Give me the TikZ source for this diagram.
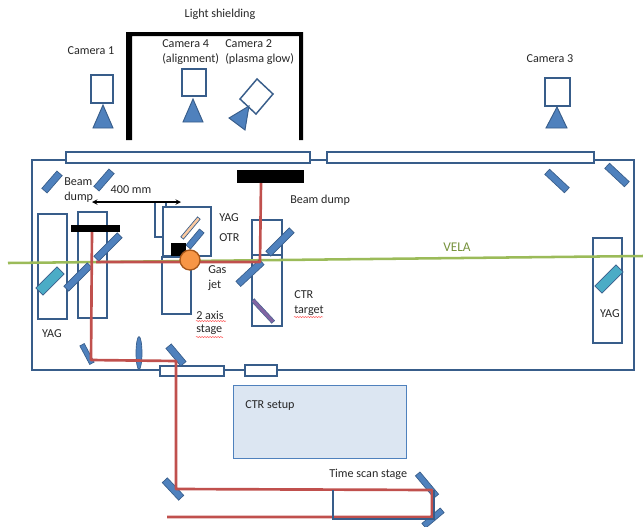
\documentclass[tikz,border=0pt]{standalone}
\usepackage{fontspec}
\setmainfont{Carlito}
\usetikzlibrary{decorations.pathmorphing,shapes.geometric}
\definecolor{bd}{HTML}{385D8A}
\definecolor{bf}{HTML}{4F81BD}
\definecolor{rd}{HTML}{C0504D}
\definecolor{gn}{HTML}{9BBB59}
\definecolor{tl}{HTML}{4BACC6}
\definecolor{pu}{HTML}{8064A2}
\definecolor{tn}{HTML}{FAC9A0}
\definecolor{or}{HTML}{F79646}
\definecolor{orb}{HTML}{A5561A}
\definecolor{vl}{HTML}{76923C}
\definecolor{cf}{HTML}{DCE6F2}
\tikzset{
  outl/.style={draw=bd,line width=1.1pt},
  win/.style={outl,fill=white},
  mirror/.style n args={3}{draw=bd,fill=bf,line width=.5pt,rectangle,inner sep=0pt,minimum width=#1*.75pt,minimum height=#2*.75pt,rotate=#3},
  tealm/.style 2 args={draw=bd,fill=tl,line width=.5pt,rectangle,inner sep=0pt,minimum width=#1*.75pt,minimum height=10*.75pt,rotate=#2},
  beam/.style={draw=rd,line width=2pt},
  blk/.style={fill=black,draw=none},
  camtri/.style={fill=bf,draw=bd,line width=.7pt},
  lab/.style={font=\fontsize{9.1}{11.25}\selectfont,text=black!85,inner sep=0pt},
  lft/.style={lab,anchor=west},
  ctr/.style={lab,align=center},
  spell/.style={draw=red!80,line width=.35pt,decorate,decoration={snake,amplitude=.35pt,segment length=2pt}}
}
\begin{document}
\begin{tikzpicture}[x=.75pt,y=-.75pt]
\useasboundingbox (0,0) rectangle (643,526);
\clip (0,0) rectangle (643,526);
% chamber
\draw[outl] (32,160) rectangle (634,370);
\node[lab] (tshield) at (220,14) {Light shielding};
% shielding
\fill[blk] (126,140) -- (126,32) -- (303,32) -- (303,140) -- (299,140) -- (299,36) -- (132,36) -- (132,140) -- cycle;
% cameras
\node[ctr] (tc1) at (91,51) {Camera 1};
\node[lft,align=left] (tc4) at (162,52) {Camera 4\\(alignment)};
\node[lft,align=left] (tc2) at (225,52) {Camera 2\\(plasma glow)};
\node[ctr] (tc3) at (550,59) {Camera 3};
\draw[outl] (91,75) rectangle (113,103);
\draw[camtri] (93,128) -- (113,128) -- (103,105) -- cycle;
\draw[outl] (182,69) rectangle (206,96);
\draw[camtri] (183,122) -- (203,122) -- (193,99) -- cycle;
\draw[outl] (257,79) -- (273,94) -- (256,114) -- (240,99) -- cycle;
\draw[camtri] (249,106) -- (229,118) -- (245,130) -- cycle;
\draw[outl] (545,78) rectangle (570,106);
\draw[camtri] (546,128) -- (567,128) -- (557,107) -- cycle;
% windows
\draw[win] (66,152) rectangle (310,163);
\draw[win] (327,152) rectangle (594,163);
\draw[win] (160,366) rectangle (224,376);
\draw[win] (245,365) rectangle (277,376);
% stage boxes
\draw[outl] (38,214) rectangle (67,319);
\draw[outl] (78,212) rectangle (107,318);
\draw[outl] (155,202) rectangle (166,237);
\draw[outl,fill=white] (163,207) rectangle (211,256);
\draw[bd,line width=2.2pt] (163,207) -- (163,257);
\draw[outl] (162,257) rectangle (191,314);
\draw[outl] (252,220) rectangle (282,255);
\draw[outl] (252,255) rectangle (282,326);
\draw[outl] (593,238) rectangle (622,343);
% top mirrors
\node[mirror={23}{7}{49}] (m1) at (52,182) {};
\node[mirror={23}{7}{49}] (m2) at (104,180) {};
\node[mirror={27}{7}{-43}] (m9) at (557,181) {};
\node[mirror={27}{7}{-43}] (m10) at (617,175) {};
% green beam
\coordinate (gl) at (8,263);
\coordinate (gr) at (643,256);
\draw[gn,line width=1.9pt] (gl) -- (gr);
\node[font=\fontsize{10}{12}\selectfont,text=vl,inner sep=0pt] (tvela) at (457,247) {VELA};
% mirrors in the chamber
\node[tealm={30}{45}] (y1) at (50,281) {};
\node[tealm={30}{45}] (y2) at (609,279) {};
\node[mirror={33}{7}{45}] (m3) at (78,277) {};
\node[mirror={33}{7}{45}] (m4) at (108,247) {};
\node[mirror={33}{7}{45}] (m5) at (280,242) {};
\node[mirror={32}{7}{43}] (m6) at (250,273) {};
\node[draw=bd,fill=pu,line width=.3pt,rectangle,inner sep=0pt,minimum width=30*.75pt,minimum height=4*.75pt,rotate=-47] (ctrt) at (263,311) {};
\node[mirror={21}{5}{-62}] (m7) at (87,354) {};
\node[draw=bd,fill=bf,ellipse,line width=.5pt,inner sep=0pt,minimum width=6*.75pt,minimum height=33*.75pt] (lens) at (139,353) {};
\node[mirror={23}{7}{-50}] (m8) at (176,355) {};
\node[mirror={29}{6}{-50}] (m11) at (427,485) {};
\node[mirror={24}{6}{40}] (m12) at (433,518) {};
\node[mirror={24}{7}{-47}] (m13) at (173,489) {};
\node[draw=bd,fill=tn,line width=.5pt,rectangle,inner sep=0pt,minimum width=26*.75pt,minimum height=3.5*.75pt,rotate=50] (tany) at (190.5,228) {};
\node[mirror={21}{6}{50}] (otr) at (195,239) {};
\fill[blk] (171,243) rectangle (186,256);
% dumps
\node[blk,rectangle,inner sep=0pt,minimum width=49*.75pt,minimum height=7*.75pt] (d1) at (95.5,228.5) {};
\node[blk,rectangle,inner sep=0pt,minimum width=67*.75pt,minimum height=13*.75pt] (d2) at (270.5,176.5) {};
% red beams
\coordinate (a1) at (96,262);
\coordinate (a2) at (260,262);
\coordinate (a3) at (261,183);
\draw[beam,line join=round] (a1) -- (a2) -- (a3);
\coordinate (b1) at (92,232);
\coordinate (b2) at (91,360);
\coordinate (b3) at (176,361);
\coordinate (b4) at (176,489);
\coordinate (b5) at (432,490);
\coordinate (b6) at (432,517);
\coordinate (b7) at (167,517);
\draw[beam,line join=round] (b1) -- (b2) -- (b3) -- (b4) -- (b5) -- (b6) -- (b7);
% stage at the bottom
\draw[bd,line width=1.3pt] (333,490) -- (333,519) -- (434,519) -- (434,490);
% gas jet
\node[circle,draw=orb,fill=or,line width=1pt,inner sep=0pt,minimum size=20*.75pt] (jet) at (190,260) {};
% CTR box
\node[draw=bf,fill=cf,line width=.7pt,rectangle,inner sep=0pt,minimum width=173*.75pt,minimum height=73*.75pt] (ctrbox) at (319.5,421.5) {};
% arrow
\coordinate (al) at (92,202);
\coordinate (ar) at (181,202);
\draw[line width=.8pt,black,<->,>=stealth] (al) -- (ar);
% labels
\node[lft,align=left] (tbd1) at (64,190.5) {Beam\\dump};
\node[ctr] (t400) at (131,190) {400 mm};
\node[lft] (tyag) at (219,218) {YAG};
\node[lft] (totr) at (219,238) {OTR};
\node[lft,align=left] (tgas) at (208,278.5) {Gas\\jet};
\node[lft] (tbd2) at (290,200) {Beam dump};
\node[lft] (tctr) at (294,295) {CTR};
\node[lft] (ttar) at (294,311) {target};
\node[lft] (t2ax) at (196,315) {2 axis};
\node[lft] (tsta) at (196,330) {stage};
\node[ctr] (tyl) at (52,334) {YAG};
\node[ctr] (tyr) at (610,314) {YAG};
\node[lft] (tset) at (245,406) {CTR setup};
\node[lft] (ttim) at (329,474) {Time scan stage};
% spelling marks
\draw[spell] (294,317) -- (323,317);
\draw[spell] (196,321) -- (226,321);
\draw[spell] (196,337) -- (223,337);
\end{tikzpicture}
\end{document}
